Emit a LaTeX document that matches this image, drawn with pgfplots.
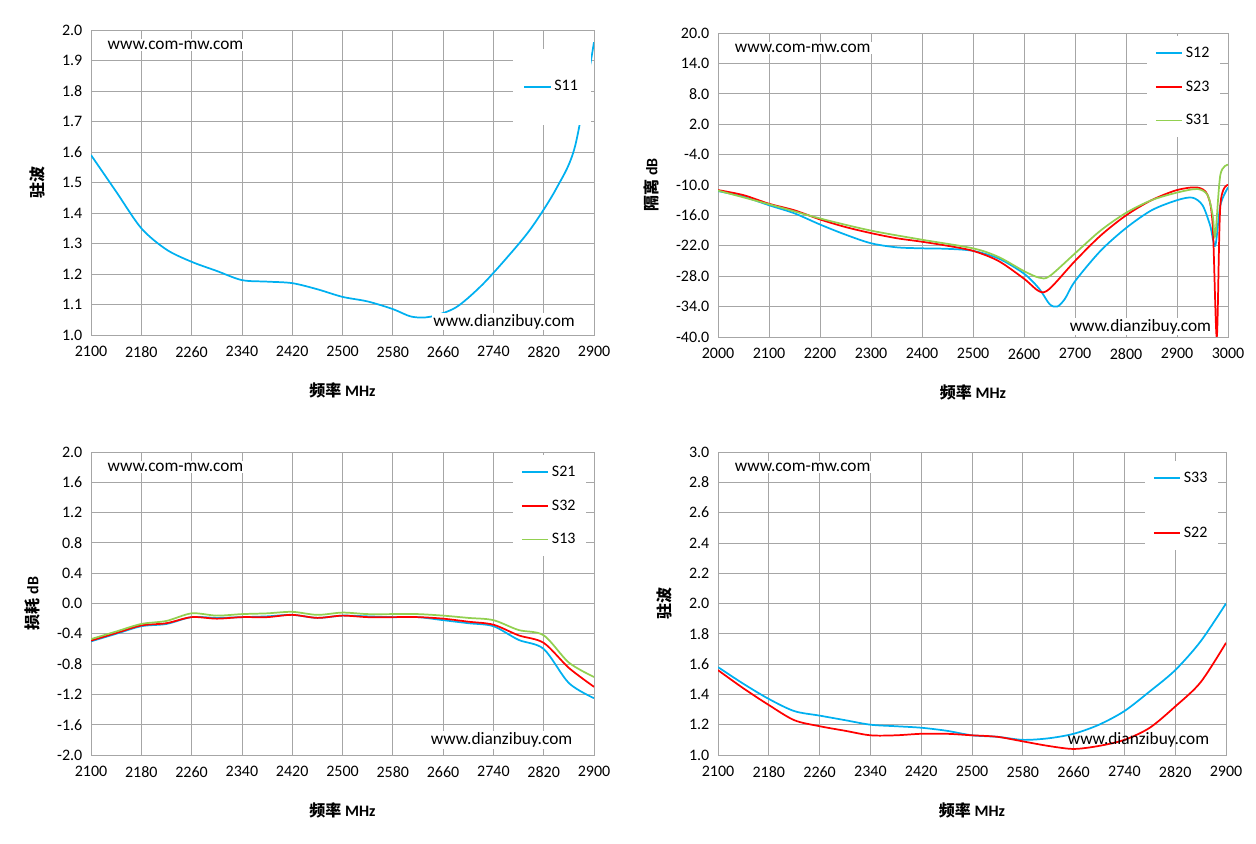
\documentclass[border=0pt]{standalone}
\usepackage{pgfplots}
\pgfplotsset{compat=1.18}
\usepackage{fontspec}
\setmainfont{Carlito}
\newfontfamily\cjk{Noto Sans CJK SC}
\definecolor{cb}{HTML}{00B0F0}
\definecolor{cr}{HTML}{FF0000}
\definecolor{cg}{HTML}{92D050}
\pgfplotsset{
  base/.style={scale only axis, anchor=north west,
    grid=major, major grid style={gray!70, line width=0.6pt},
    axis line style={gray!70}, tick style={draw=none},
    ticklabel style={font=\fontsize{12}{14}\selectfont},
    xticklabel style={yshift=-5pt},
    yticklabel style={xshift=-3pt},
    /pgf/number format/assume math mode=true,
    /pgf/number format/set thousands separator={},
    yticklabel style={/pgf/number format/fixed,/pgf/number format/fixed zerofill,/pgf/number format/precision=1},
    xlabel={\cjk\bfseries 频率 \rmfamily\bfseries MHz},
    xlabel style={font=\fontsize{12}{14}\selectfont, yshift=-12pt},
    ylabel style={font=\fontsize{12}{14}\selectfont, yshift=6pt},
    legend style={draw=none, fill=white, font=\fontsize{12}{14}\selectfont, row sep=12pt, inner sep=6pt},
    legend cell align=left,
    legend image code/.code={\draw[#1, line width=1.3pt] (0cm,0cm) -- (0.7cm,0cm);},
  },
  L/.style={smooth, line width=1.3pt, no marks, #1},
}
\newcommand{\wm}[2]{%
  \node[anchor=north west, fill=white, inner sep=1pt, font=\fontsize{13}{15}\selectfont] at (rel axis cs:0.03,0.97) {www.com-mw.com};
  \node[anchor=south east, fill=white, inner sep=1pt, font=\fontsize{13}{15}\selectfont] at (rel axis cs:#1,#2) {www.dianzibuy.com};}
\begin{document}
\begin{tikzpicture}
\useasboundingbox (0,0) rectangle (942pt,632.25pt);
% TL
\begin{axis}[base, at={(68.25pt,609.75pt)}, width=377.25pt, height=228.75pt,
  xmin=2100, xmax=2900, ymin=1, ymax=2, xtick={2100,2180,...,2900}, ytick={1,1.1,...,2.01},
  ylabel={\cjk\bfseries 驻波},
  legend style={at={(rel axis cs:0.995,0.94)}, anchor=north east, inner xsep=8pt, inner ysep=22pt}]
\addplot[L=cb] coordinates {(2100,1.59)(2140,1.47)(2180,1.35)(2220,1.28)(2260,1.24)(2300,1.21)(2340,1.18)(2380,1.175)(2420,1.17)(2460,1.15)(2500,1.125)(2540,1.11)(2580,1.085)(2610,1.06)(2640,1.06)(2680,1.09)(2720,1.16)(2760,1.25)(2800,1.35)(2840,1.48)(2870,1.62)(2900,1.96)};
\legend{S11}
\wm{0.965}{0.015}
\end{axis}
% TR
\begin{axis}[base, at={(538.5pt,607.5pt)}, width=382.5pt, height=228pt,
  xmin=2000, xmax=3000, ymin=-40, ymax=20, xtick={2000,2100,...,3000}, ytick={-40,-34,...,20},
  ylabel={\cjk\bfseries 隔离 \rmfamily\bfseries dB},
  legend style={at={(rel axis cs:0.985,0.99)}, anchor=north east}]
\addplot[L=cb] coordinates {(2000,-11.2)(2050,-12.3)(2100,-14)(2150,-15.6)(2200,-17.8)(2250,-19.8)(2300,-21.5)(2350,-22.3)(2400,-22.5)(2450,-22.6)(2500,-23)(2550,-24.5)(2600,-27.5)(2630,-30.5)(2650,-33.5)(2665,-34)(2680,-32.5)(2700,-29)(2750,-23)(2800,-18.5)(2850,-15)(2900,-13)(2930,-12.5)(2950,-14)(2965,-18)(2975,-22)(2985,-14)(3000,-10.5)};
\addplot[L=cr] coordinates {(2000,-11)(2050,-12)(2100,-13.7)(2150,-15)(2200,-16.8)(2250,-18.3)(2300,-19.5)(2350,-20.5)(2400,-21.2)(2450,-22)(2500,-23)(2550,-25)(2600,-28.5)(2630,-31)(2650,-30.5)(2700,-25)(2750,-20)(2800,-16)(2850,-13)(2900,-11)(2940,-10.5)(2960,-12)(2970,-18)(2978,-40)(2985,-14)(3000,-10)};
\addplot[L=cg] coordinates {(2000,-11.1)(2100,-13.8)(2200,-16.6)(2300,-19)(2400,-20.8)(2500,-22.5)(2550,-24.2)(2600,-27)(2630,-28.3)(2650,-28)(2700,-23.5)(2750,-19)(2800,-15.5)(2850,-13)(2900,-11.5)(2940,-10.8)(2960,-12)(2970,-16)(2975,-20)(2985,-8)(3000,-6)};
\legend{S12,S23,S31}
\wm{0.97}{0.005}
\end{axis}
% BL
\begin{axis}[base, at={(68.25pt,293.25pt)}, width=377.25pt, height=227.25pt,
  xmin=2100, xmax=2900, ymin=-2, ymax=2, xtick={2100,2180,...,2900}, ytick={-2,-1.6,...,2.01},
  ylabel={\cjk\bfseries 损耗 \rmfamily\bfseries dB},
  legend style={at={(rel axis cs:0.985,0.99)}, anchor=north east}]
\addplot[L=cb] coordinates {(2100,-0.5)(2140,-0.4)(2180,-0.3)(2220,-0.27)(2260,-0.18)(2300,-0.19)(2340,-0.18)(2380,-0.17)(2420,-0.15)(2460,-0.19)(2500,-0.16)(2540,-0.17)(2580,-0.18)(2620,-0.18)(2660,-0.22)(2700,-0.26)(2740,-0.3)(2780,-0.48)(2820,-0.6)(2860,-1.05)(2900,-1.25)};
\addplot[L=cr] coordinates {(2100,-0.49)(2140,-0.39)(2180,-0.29)(2220,-0.26)(2260,-0.18)(2300,-0.2)(2340,-0.18)(2380,-0.18)(2420,-0.15)(2460,-0.19)(2500,-0.16)(2540,-0.18)(2580,-0.18)(2620,-0.18)(2660,-0.2)(2700,-0.24)(2740,-0.28)(2780,-0.42)(2820,-0.52)(2860,-0.85)(2900,-1.1)};
\addplot[L=cg] coordinates {(2100,-0.47)(2140,-0.37)(2180,-0.27)(2220,-0.23)(2260,-0.13)(2300,-0.16)(2340,-0.14)(2380,-0.13)(2420,-0.11)(2460,-0.15)(2500,-0.12)(2540,-0.14)(2580,-0.14)(2620,-0.14)(2660,-0.16)(2700,-0.19)(2740,-0.22)(2780,-0.35)(2820,-0.42)(2860,-0.78)(2900,-0.97)};
\legend{S21,S32,S13}
\wm{0.96}{0.02}
\end{axis}
% BR
\begin{axis}[base, at={(538.5pt,293.25pt)}, width=381pt, height=227.25pt,
  xmin=2100, xmax=2900, ymin=1, ymax=3, xtick={2100,2180,...,2900}, ytick={1,1.2,...,3.01},
  ylabel={\cjk\bfseries 驻波},
  legend style={at={(rel axis cs:0.985,0.97)}, anchor=north east, row sep=28pt}]
\addplot[L=cb] coordinates {(2100,1.58)(2140,1.47)(2180,1.37)(2220,1.29)(2260,1.26)(2300,1.23)(2340,1.2)(2380,1.19)(2420,1.18)(2460,1.16)(2500,1.13)(2540,1.12)(2580,1.1)(2620,1.11)(2660,1.14)(2700,1.2)(2740,1.29)(2780,1.42)(2820,1.56)(2860,1.75)(2900,2.0)};
\addplot[L=cr] coordinates {(2100,1.56)(2140,1.44)(2180,1.33)(2220,1.23)(2260,1.19)(2300,1.16)(2340,1.13)(2380,1.13)(2420,1.14)(2460,1.14)(2500,1.13)(2540,1.12)(2580,1.09)(2620,1.06)(2660,1.04)(2700,1.06)(2740,1.1)(2780,1.18)(2820,1.32)(2860,1.48)(2900,1.74)};
\legend{S33,S22}
\node[anchor=south east, inner sep=1pt, font=\fontsize{13}{15}\selectfont] at (rel axis cs:0.97,0.02) {www.dianzibuy.com};
\node[anchor=north west, fill=white, inner sep=1pt, font=\fontsize{13}{15}\selectfont] at (rel axis cs:0.03,0.97) {www.com-mw.com};
\end{axis}
\end{tikzpicture}
\end{document}
